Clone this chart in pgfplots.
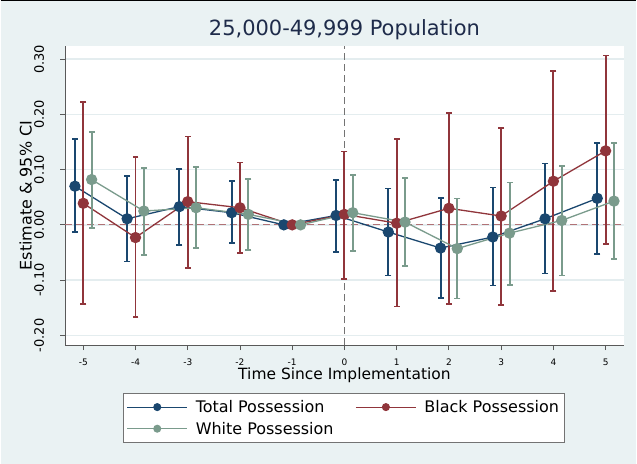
\documentclass[border=0pt]{standalone}
\usepackage{pgfplots}
\pgfplotsset{compat=1.18}
\usepackage{pgfplotstable}
\usepackage{fontspec}
\setmainfont{DejaVu Sans}
\definecolor{bgc}{HTML}{EAF2F3}
\definecolor{gridc}{HTML}{E4EDEF}
\definecolor{cTot}{HTML}{1A476F}
\definecolor{cBlk}{HTML}{90353B}
\definecolor{cWht}{HTML}{7A9B8C}
\definecolor{titlec}{HTML}{1E2B4A}

\pgfplotstableread{
x y lo hi
-5.16 0.070 -0.013 0.155
-4.16 0.011 -0.066 0.088
-3.16 0.033 -0.036 0.101
-2.16 0.022 -0.033 0.079
-1.16 0.000 0.000 0.000
-0.16 0.017 -0.049 0.081
0.84 -0.013 -0.092 0.066
1.84 -0.042 -0.132 0.049
2.84 -0.022 -0.110 0.068
3.84 0.011 -0.088 0.111
4.84 0.048 -0.053 0.148
}\tTot
\pgfplotstableread{
x y lo hi
-5 0.039 -0.143 0.222
-4 -0.023 -0.167 0.123
-3 0.042 -0.078 0.160
-2 0.031 -0.051 0.113
-1 0.000 0.000 0.000
0 0.019 -0.098 0.133
1 0.003 -0.148 0.156
2 0.030 -0.143 0.203
3 0.016 -0.145 0.175
4 0.079 -0.120 0.279
5 0.134 -0.035 0.307
}\tBlk
\pgfplotstableread{
x y lo hi
-4.84 0.082 -0.006 0.168
-3.84 0.025 -0.055 0.103
-2.84 0.031 -0.042 0.105
-1.84 0.019 -0.045 0.083
-0.84 0.000 0.000 0.000
0.16 0.022 -0.047 0.090
1.16 0.005 -0.075 0.085
2.16 -0.043 -0.133 0.048
3.16 -0.015 -0.109 0.077
4.16 0.008 -0.092 0.107
5.16 0.043 -0.062 0.148
}\tWht

\pgfplotsset{
  myerr/.style={
    error bars/y dir=both, error bars/y explicit,
    error bars/error mark=none,
    error bars/error bar style={line width=2pt, solid}
  },
  mycap/.style={only marks, mark=-, mark size=3pt, mark options={line width=1.6pt}, forget plot}
}

\begin{document}
\begin{tikzpicture}[x=1pt,y=1pt]
\fill[bgc] (0,0) rectangle (637,465);
\draw[black, line width=1.5pt] (0,464.3) -- (637,464.3);
\node[text=titlec, font=\fontsize{21}{25}\selectfont] at (344.5,435) {25,000-49,999 Population};
\begin{axis}[
  at={(64.7pt,119pt)}, anchor=south west,
  scale only axis, width=559.6pt, height=300pt,
  xmin=-5.344, xmax=5.344, ymin=-0.218, ymax=0.324,
  axis background/.style={fill=white},
  axis lines*=left,
  axis line style={draw=black!65, line width=1pt},
  tick align=outside, major tick length=5pt,
  tick style={draw=black!65, line width=0.9pt},
  xtick={-5,-4,-3,-2,-1,0,1,2,3,4,5},
  xticklabels={-5,-4,-3,-2,-1,0,1,2,3,4,5},
  ytick={-0.2,-0.1,0,0.1,0.2,0.3},
  yticklabels={-0.20,-0.10,0.00,0.10,0.20,0.30},
  xticklabel style={font=\fontsize{9}{10}\selectfont, yshift=-5pt},
  yticklabel style={font=\fontsize{13}{15}\selectfont, rotate=90, anchor=south, inner ysep=16pt},
  ymajorgrids, major grid style={draw=gridc, line width=1.5pt},
  xlabel={Time Since Implementation},
  xlabel style={font=\fontsize{15.5}{18}\selectfont, at={(0.5,-0.1)}, anchor=center},
  ylabel={Estimate \& 95\% CI},
  ylabel style={font=\fontsize{16}{18}\selectfont, at={(-0.0709,0.5)}, anchor=center},
  clip=false,
  legend style={at={(0.499,-0.2428)}, anchor=center, draw=black!55, line width=0.8pt, fill=white,
    font=\fontsize{16}{18}\selectfont, inner xsep=3pt, inner ysep=5pt,
    /tikz/every even column/.append style={column sep=20pt}, row sep=4pt},
  legend columns=2, legend cell align=left,
  legend image code/.code={\draw[mark repeat=2,mark phase=2,#1,line width=1pt,mark size=3.5pt] plot coordinates {(0pt,0pt) (30pt,0pt) (60pt,0pt)}; \path (66pt,0pt);},
  every axis plot/.append style={line width=1.3pt, mark=*, mark size=5pt},
]
\draw[draw=cBlk!70, dashed, dash pattern=on 7pt off 4pt, line width=1pt] (axis cs:-5.344,0) -- (axis cs:5.344,0);
\draw[draw=black!55, dashed, dash pattern=on 7pt off 4pt, line width=1pt] (axis cs:0,-0.218) -- (axis cs:0,0.324);
\addplot[color=cTot, mycap] table[x=x, y=hi] {\tTot};
\addplot[color=cTot, mycap] table[x=x, y=lo] {\tTot};
\addplot[color=cBlk, mycap] table[x=x, y=hi] {\tBlk};
\addplot[color=cBlk, mycap] table[x=x, y=lo] {\tBlk};
\addplot[color=cWht, mycap] table[x=x, y=hi] {\tWht};
\addplot[color=cWht, mycap] table[x=x, y=lo] {\tWht};
\addplot[color=cTot, myerr] table[x=x, y=y, y error plus expr=\thisrow{hi}-\thisrow{y}, y error minus expr=\thisrow{y}-\thisrow{lo}] {\tTot};
\addlegendentry{Total Possession}
\addplot[color=cBlk, myerr] table[x=x, y=y, y error plus expr=\thisrow{hi}-\thisrow{y}, y error minus expr=\thisrow{y}-\thisrow{lo}] {\tBlk};
\addlegendentry{Black Possession}
\addplot[color=cWht, myerr] table[x=x, y=y, y error plus expr=\thisrow{hi}-\thisrow{y}, y error minus expr=\thisrow{y}-\thisrow{lo}] {\tWht};
\addlegendentry{White Possession}
\end{axis}
\end{tikzpicture}
\end{document}
